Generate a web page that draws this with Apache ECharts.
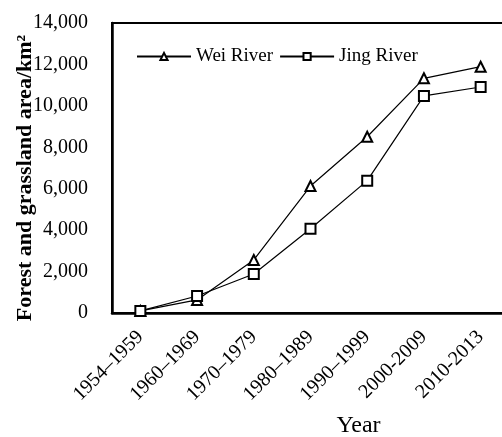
<!DOCTYPE html>
<html><head><meta charset="utf-8">
<script src="https://cdn.jsdelivr.net/npm/echarts@6/dist/echarts.min.js"></script>
<style>html,body{margin:0;padding:0;background:#fff}#c{width:502px;height:437px}</style>
</head><body><div id="c"></div>
<script>
const categories = ['1954–1959','1960–1969','1970–1979','1980–1989','1990–1999','2000-2009','2010-2013'];
const weiRiver = [100, 630, 2560, 6130, 8510, 11330, 11890];
const jingRiver = [100, 820, 1880, 4070, 6390, 10480, 10910];
const yTicks = {min: 0, max: 14000, interval: 2000};

const font = '"Liberation Serif","Times New Roman",serif';
const chart = echarts.init(document.getElementById('c'));
chart.setOption({
  animation: false,
  textStyle: {fontFamily: font},
  grid: {left: 112, width: 397, top: 23, height: 290, show: true, borderColor: '#000', borderWidth: 2,
         outerBoundsMode: 'none', containLabel: false},
  legend: {
    top: 42, left: 131, itemGap: 6, itemWidth: 54, itemHeight: 9,
    textStyle: {fontFamily: font, fontSize: 19, color: '#000'},
    data: [{name: 'Wei River'}, {name: 'Jing River'}]
  },
  xAxis: {
    type: 'category', data: categories, boundaryGap: true,
    name: 'Year', nameLocation: 'middle', nameGap: 101, nameMoveOverlap: false,
    nameTextStyle: {fontFamily: font, fontSize: 24, color: '#000', padding: [0, 0, 0, 96]},
    axisLine: {lineStyle: {color: '#000', width: 2.5}},
    axisTick: {inside: true, length: 6, lineStyle: {color: '#000', width: 1.5}},
    axisLabel: {rotate: 45, margin: 21, fontFamily: font, fontSize: 20, color: '#000'}
  },
  yAxis: {
    type: 'value', min: yTicks.min, max: yTicks.max, interval: yTicks.interval,
    name: 'Forest and grassland area/km²', nameLocation: 'middle', nameGap: 76, nameMoveOverlap: false,
    nameTextStyle: {fontFamily: font, fontSize: 22, fontWeight: 'bold', color: '#000', padding: [0, 20, 0, 0]},
    axisLine: {show: true, lineStyle: {color: '#000', width: 2.5}},
    axisTick: {show: false},
    splitLine: {show: false},
    axisLabel: {margin: 24, fontFamily: font, fontSize: 20, color: '#000',
      formatter: v => v.toLocaleString('en-US')}
  },
  series: [
    {name: 'Wei River', type: 'line', data: weiRiver, symbol: 'triangle', symbolSize: 10,
     lineStyle: {color: '#000', width: 1.2}, itemStyle: {color: '#fff', borderColor: '#000', borderWidth: 2}},
    {name: 'Jing River', type: 'line', data: jingRiver, symbol: 'rect', symbolSize: 10,
     lineStyle: {color: '#000', width: 1.2}, itemStyle: {color: '#fff', borderColor: '#000', borderWidth: 2}}
  ]
});
</script></body></html>
